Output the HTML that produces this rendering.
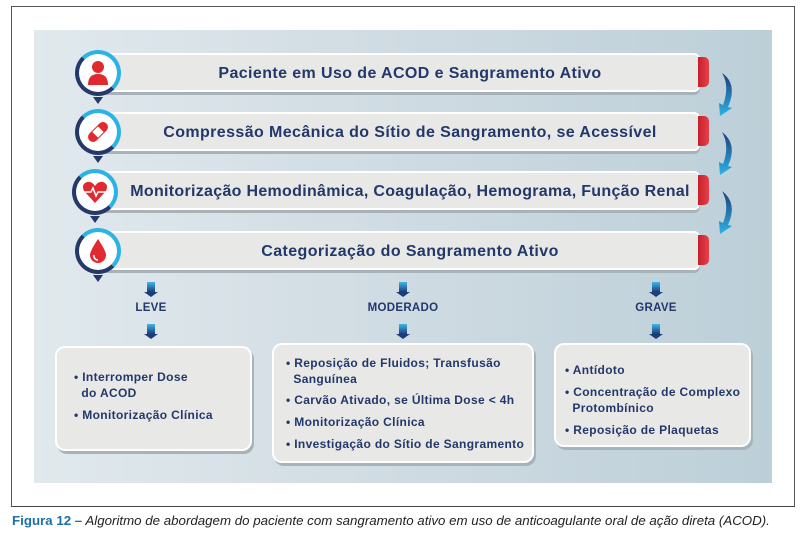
<!DOCTYPE html>
<html><head><meta charset="utf-8"><style>
*{margin:0;padding:0;box-sizing:border-box}
body{width:802px;height:534px;background:#fff;position:relative;font-family:"Liberation Sans",sans-serif;overflow:hidden}
.frame{position:absolute;left:11px;top:6px;width:784px;height:501px;border:1px solid #555;border-bottom:1.5px solid #444}
.panel{position:absolute;left:34px;top:30px;width:738px;height:453px;background:linear-gradient(90deg,#e1e9ed,#cfdbe2 50%,#bccfd8)}
.bar{position:absolute;left:100px;width:600px;height:39px;background:#e8e8e6;border:2px solid #fff;border-radius:6px;box-shadow:0 3px 0 #a8b3b9;color:#23386a;font-weight:bold;font-size:16px;letter-spacing:0.4px;display:flex;align-items:center;justify-content:center;padding-left:20px;padding-top:3px}
.tab{position:absolute;left:698px;width:11px;height:30px;background:linear-gradient(90deg,#c8202a,#e8404a);border-radius:0 5px 5px 0}
.pin{position:absolute;left:75px;width:46px;height:46px;border-radius:50%;background:#fff;border:4px solid #24386a;border-top-color:#2bb3e6;border-right-color:#2bb3e6}
.pin:after{content:"";position:absolute;left:14px;bottom:-12px;border-left:5px solid transparent;border-right:5px solid transparent;border-top:7px solid #24386a}
.pin svg{position:absolute;left:5px;top:5px}
.lbl{position:absolute;color:#23386a;font-weight:bold;font-size:11.5px;letter-spacing:0.3px;transform:translateX(-50%)}
.arr{position:absolute;width:8px;height:10px;background:linear-gradient(#3fb6e6,#1d3c78);transform:translateX(-50%)}
.arr:after{content:"";position:absolute;left:-3px;top:10px;border-left:7px solid transparent;border-right:7px solid transparent;border-top:5px solid #1d3c78}
.box{position:absolute;background:#e8e8e6;border:2.5px solid #fff;border-radius:10px;box-shadow:2px 3px 0 #a8b3b9;color:#23386a;font-weight:bold;font-size:12px;letter-spacing:0.35px;line-height:16px}
.box p{margin-bottom:6px}
.cap{position:absolute;left:12px;top:513px;font-size:13.3px;font-style:italic;color:#222;white-space:nowrap}
.cap b{color:#1e6fa8;font-style:normal}
</style></head><body>
<div class="frame"></div>
<div class="panel"></div>

<div class="bar" style="top:53px">Paciente em Uso de ACOD e Sangramento Ativo</div>
<div class="tab" style="top:57px"></div>
<div class="bar" style="top:112px">Compressão Mecânica do Sítio de Sangramento, se Acessível</div>
<div class="tab" style="top:116px"></div>
<div class="bar" style="top:171px;letter-spacing:0.3px">Monitorização Hemodinâmica, Coagulação, Hemograma, Função Renal</div>
<div class="tab" style="top:175px"></div>
<div class="bar" style="top:231px">Categorização do Sangramento Ativo</div>
<div class="tab" style="top:235px"></div>

<div class="pin" style="top:50px"><svg width="28" height="28" viewBox="0 0 28 28"><circle cx="14" cy="8" r="6" fill="#e02a30"/><path d="M4 26 Q4 15 14 15 Q24 15 24 26Z" fill="#e02a30"/></svg></div>
<div class="pin" style="top:109px"><svg width="28" height="28" viewBox="0 0 28 28"><rect x="2" y="9" width="24" height="10" rx="5" fill="#e02a30" transform="rotate(-45 14 14)"/><rect x="10" y="10" width="8" height="8" fill="#fff" transform="rotate(-45 14 14)"/></svg></div>
<div class="pin" style="top:169px;left:72px"><svg width="28" height="28" viewBox="0 0 28 28"><path d="M14 25 L3 13 Q0 6 6 4 Q11 3 14 8 Q17 3 22 4 Q28 6 25 13Z" fill="#e02a30"/><path d="M3 14 H10 L12 10 L15 18 L17 14 H25" stroke="#fff" stroke-width="1.5" fill="none"/></svg></div>
<div class="pin" style="top:228px"><svg width="28" height="28" viewBox="0 0 28 28"><path d="M14 2 Q6 14 6 18 A8 8 0 0 0 22 18 Q22 14 14 2Z" fill="#e02a30"/><path d="M10 18 A4 4 0 0 0 14 23" stroke="#fff" stroke-width="1.5" fill="none"/></svg></div>

<svg style="position:absolute;left:712px;top:70px" width="30" height="190" viewBox="0 0 30 190">
<defs><linearGradient id="g" x1="0" y1="0" x2="0" y2="1"><stop offset="0" stop-color="#1d3c78"/><stop offset="1" stop-color="#2bb3e6"/></linearGradient></defs>
<g fill="url(#g)">
<path d="M10 3 Q26 14 16 37 L20 38 L8 46 L7 33 L11 35 Q18 16 10 3Z"/>
<path d="M10 62 Q26 74 16 96 L20 97 L8 105 L7 92 L11 94 Q18 76 10 62Z"/>
<path d="M10 121 Q26 133 16 155 L20 156 L8 164 L7 151 L11 153 Q18 135 10 121Z"/>
</g></svg>

<div class="arr" style="left:151px;top:282px"></div>
<div class="lbl" style="left:151px;top:302px">LEVE</div>
<div class="arr" style="left:151px;top:324px"></div>
<div class="arr" style="left:403px;top:282px"></div>
<div class="lbl" style="left:403px;top:302px">MODERADO</div>
<div class="arr" style="left:403px;top:324px"></div>
<div class="arr" style="left:656px;top:282px"></div>
<div class="lbl" style="left:656px;top:302px">GRAVE</div>
<div class="arr" style="left:656px;top:324px"></div>

<div class="box" style="left:55px;top:346px;width:197px;height:105px;padding:21px 0 0 17px">
<p>• Interromper Dose<br>&nbsp;&nbsp;do ACOD</p><p>• Monitorização Clínica</p></div>
<div class="box" style="left:272px;top:343px;width:262px;height:120px;padding:10px 0 0 12px">
<p style="margin-bottom:5px">• Reposição de Fluidos; Transfusão<br>&nbsp;&nbsp;Sanguínea</p><p style="margin-bottom:6px">• Carvão Ativado, se Última Dose &lt; 4h</p><p style="margin-bottom:6px">• Monitorização Clínica</p><p>• Investigação do Sítio de Sangramento</p></div>
<div class="box" style="left:554px;top:343px;width:197px;height:104px;padding:17px 0 0 9px">
<p style="margin-bottom:6px">• Antídoto</p><p style="margin-bottom:6px">• Concentração de Complexo<br>&nbsp;&nbsp;Protombínico</p><p>• Reposição de Plaquetas</p></div>

<div class="cap"><b>Figura 12 –</b> Algoritmo de abordagem do paciente com sangramento ativo em uso de anticoagulante oral de ação direta (ACOD).</div>
</body></html>
